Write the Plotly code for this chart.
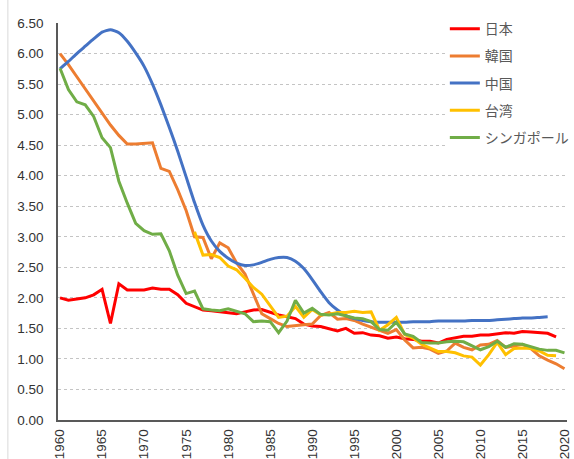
import plotly.graph_objects as go

# Total fertility rate, East Asia, 1960-2020
years = list(range(1960, 2021))

japan = [2.00, 1.96, 1.98, 2.00, 2.05, 2.14, 1.58, 2.23, 2.13, 2.13,
         2.13, 2.16, 2.14, 2.14, 2.05, 1.91, 1.85, 1.80, 1.79, 1.77,
         1.75, 1.74, 1.77, 1.80, 1.81, 1.76, 1.72, 1.69, 1.66, 1.57,
         1.54, 1.53, 1.50, 1.46, 1.50, 1.42, 1.43, 1.39, 1.38, 1.34,
         1.36, 1.33, 1.32, 1.29, 1.29, 1.26, 1.32, 1.34, 1.37, 1.37,
         1.39, 1.39, 1.41, 1.43, 1.42, 1.45, 1.44, 1.43, 1.42, 1.36,
         None]

korea = [6.00, 5.82, 5.62, 5.42, 5.23, 5.03, 4.83, 4.66, 4.52, 4.52,
         4.53, 4.54, 4.12, 4.07, 3.77, 3.43, 3.00, 2.99, 2.64, 2.90,
         2.82, 2.57, 2.39, 2.06, 1.74, 1.66, 1.58, 1.53, 1.55, 1.56,
         1.57, 1.71, 1.76, 1.65, 1.66, 1.63, 1.57, 1.52, 1.46, 1.42,
         1.48, 1.31, 1.18, 1.19, 1.16, 1.09, 1.13, 1.26, 1.19, 1.15,
         1.23, 1.24, 1.30, 1.19, 1.21, 1.24, 1.17, 1.05, 0.98, 0.92,
         0.84]

china = [5.75, 5.87, 6.00, 6.12, 6.24, 6.35, 6.39, 6.34, 6.20, 6.01,
         5.79, 5.50, 5.16, 4.79, 4.40, 3.98, 3.56, 3.19, 2.93, 2.76,
         2.65, 2.57, 2.53, 2.54, 2.58, 2.63, 2.66, 2.66, 2.60, 2.48,
         2.30, 2.10, 1.92, 1.80, 1.71, 1.66, 1.63, 1.61, 1.60, 1.60,
         1.60, 1.60, 1.61, 1.61, 1.61, 1.62, 1.62, 1.62, 1.62, 1.63,
         1.63, 1.63, 1.64, 1.65, 1.66, 1.67, 1.67, 1.68, 1.69, None,
         None]

taiwan = [None] * 16 + [
         3.08, 2.70, 2.71, 2.66, 2.52, 2.46, 2.32, 2.17, 2.06, 1.88,
         1.68, 1.70, 1.86, 1.68, 1.81, 1.72, 1.73, 1.76, 1.76, 1.78,
         1.76, 1.77, 1.47, 1.56, 1.68, 1.40, 1.34, 1.24, 1.18, 1.12,
         1.12, 1.10, 1.05, 1.03, 0.90, 1.07, 1.27, 1.07, 1.17, 1.18,
         1.17, 1.13, 1.06, 1.05, None]

singapore = [5.76, 5.41, 5.21, 5.16, 4.97, 4.62, 4.46, 3.91, 3.55, 3.22,
             3.10, 3.04, 3.05, 2.77, 2.37, 2.07, 2.11, 1.82, 1.80, 1.79,
             1.82, 1.78, 1.74, 1.61, 1.62, 1.61, 1.43, 1.62, 1.96, 1.75,
             1.83, 1.73, 1.72, 1.74, 1.71, 1.67, 1.66, 1.61, 1.48, 1.47,
             1.60, 1.41, 1.37, 1.27, 1.26, 1.26, 1.28, 1.29, 1.28, 1.22,
             1.15, 1.20, 1.29, 1.19, 1.25, 1.24, 1.20, 1.16, 1.14, 1.14,
             1.10]

series = [
    ("日本", japan, "#FF0000", "linear"),
    ("韓国", korea, "#ED7D31", "linear"),
    ("中国", china, "#4472C4", "spline"),
    ("台湾", taiwan, "#FFC000", "linear"),
    ("シンガポール", singapore, "#70AD47", "linear"),
]

x_ticks = list(range(1960, 2021, 5))
y_ticks = [i * 0.5 for i in range(14)]

fig = go.Figure()
for name, values, color, shape in series:
    line = dict(color=color, width=3, shape=shape)
    if shape == "spline":
        line["smoothing"] = 0.5
    fig.add_trace(go.Scatter(
        x=years, y=values, name=name, mode="lines",
        line=line, legendgroup=name, connectgaps=False,
    ))

tick_font = dict(family="Liberation Sans, Arial, sans-serif", size=13.5, color="#333333")

fig.update_layout(
    width=574, height=459,
    margin=dict(l=58, r=7, t=23, b=39, autoexpand=False),
    paper_bgcolor="white", plot_bgcolor="white",
    showlegend=True,
    legend=dict(
        x=0.760, y=1.025, xanchor="left", yanchor="top",
        bgcolor="white", borderwidth=0,
        font=dict(family="Noto Sans CJK JP", size=14, color="#595959"),
        tracegroupgap=6,
    ),
    xaxis=dict(
        range=[1959.76, 2020.3],
        tickvals=x_ticks, ticktext=[str(v) for v in x_ticks],
        tickangle=-90, tickfont=tick_font,
        showgrid=False, zeroline=False,
        showline=True, linecolor="#595959", linewidth=1.5,
        ticks="", ticklabelstandoff=2, ticklabeloverflow="allow",
    ),
    yaxis=dict(
        range=[0, 6.5],
        tickvals=y_ticks, tickformat=".2f", tickfont=tick_font,
        showgrid=True, gridcolor="#c4c4c4", gridwidth=1, griddash="dot",
        zeroline=False,
        showline=True, linecolor="#595959", linewidth=1.5,
        ticks="", ticklabelstandoff=10, ticklabeloverflow="allow",
    ),
    shapes=[dict(
        type="line", xref="paper", yref="paper",
        x0=-0.0985, x1=-0.0985, y0=-0.2, y1=1.2,
        line=dict(color="#d9d9d9", width=1),
    )],
)

fig.write_html("out.html")
